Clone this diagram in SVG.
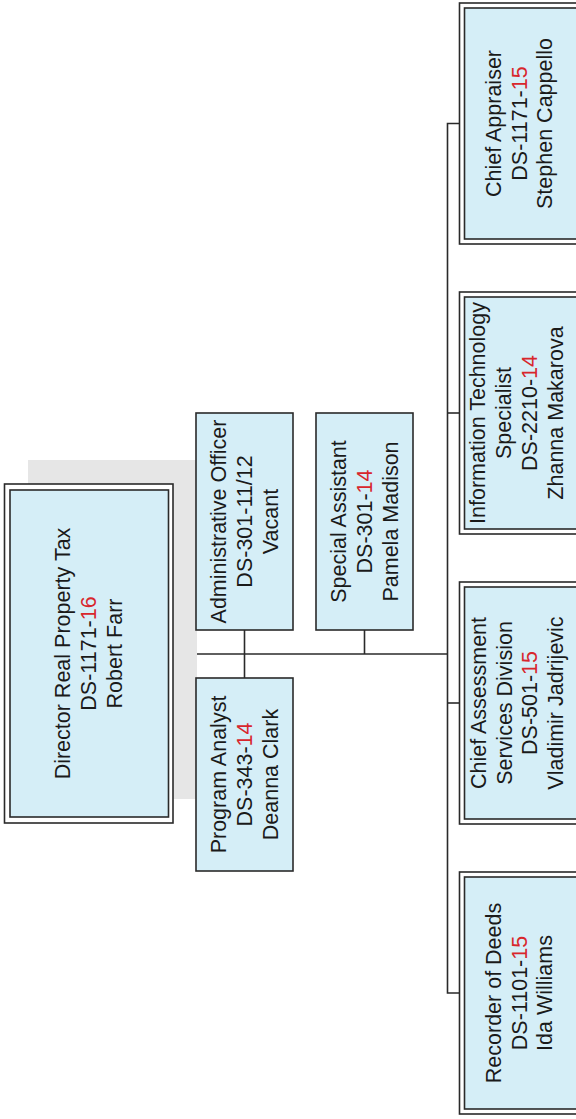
<svg xmlns="http://www.w3.org/2000/svg" width="576" height="1119" viewBox="0 0 576 1119">
<style>
.outer{fill:#ffffff;stroke:#2a2a2a;stroke-width:1.6}
.inner{fill:#d5eef7;stroke:#2a2a2a;stroke-width:1.6}
.single{fill:#d5eef7;stroke:#2a2a2a;stroke-width:1.6}
.shadow{fill:#e6e6e6}
.conn{fill:none;stroke:#2a2a2a;stroke-width:1.6}
text{font-family:"Liberation Sans",Arial,sans-serif;font-size:21.5px;fill:#1a1a1a;text-anchor:middle}
.red{fill:#d8262c}
</style>
<rect width="576" height="1119" fill="#ffffff"/>
<g id="connectors">
<path class="conn" d="M173 654 H448"/>
<path class="conn" d="M244.5 630 V678"/>
<path class="conn" d="M364.5 630 V654"/>
<path class="conn" d="M460 123.5 H447.5 V993 H460"/>
<path class="conn" d="M447.5 413 H460"/>
<path class="conn" d="M447.5 703 H460"/>
</g>
<g id="director">
<rect class="shadow" x="28" y="460" width="169" height="339"/>
<rect class="outer" x="4.5" y="484" width="168.5" height="339"/>
<rect class="inner" x="10" y="490" width="158.5" height="327"/>
<g transform="translate(88.5,653.5) rotate(-90)">
<text y="-18.3">Director Real Property Tax</text>
<text y="7.5">DS-1171-<tspan class="red">16</tspan></text>
<text y="33.3">Robert Farr</text>
</g>
</g>
<g id="admin-officer">
<rect class="single" x="196" y="413" width="97" height="217"/>
<g transform="translate(244.5,521.5) rotate(-90)">
<text y="-18.3">Administrative Officer</text>
<text y="7.5">DS-301-11/12</text>
<text y="33.3">Vacant</text>
</g>
</g>
<g id="special-assistant">
<rect class="single" x="316" y="413" width="97" height="217"/>
<g transform="translate(364.5,521.5) rotate(-90)">
<text y="-18.3">Special Assistant</text>
<text y="7.5">DS-301-<tspan class="red">14</tspan></text>
<text y="33.3">Pamela Madison</text>
</g>
</g>
<g id="program-analyst">
<rect class="single" x="196" y="678" width="97" height="193"/>
<g transform="translate(244.5,774.5) rotate(-90)">
<text y="-18.3">Program Analyst</text>
<text y="7.5">DS-343-<tspan class="red">14</tspan></text>
<text y="33.3">Deanna Clark</text>
</g>
</g>
<g id="chief-appraiser">
<rect class="outer" x="459.5" y="3" width="130" height="241"/>
<rect class="inner" x="464.5" y="8" width="120" height="231"/>
<g transform="translate(519,123.5) rotate(-90)">
<text y="-18.3">Chief Appraiser</text>
<text y="7.5">DS-1171-<tspan class="red">15</tspan></text>
<text y="33.3">Stephen Cappello</text>
</g>
</g>
<g id="it-specialist">
<rect class="outer" x="459.5" y="292" width="130" height="242"/>
<rect class="inner" x="464.5" y="297" width="120" height="232"/>
<g transform="translate(516.5,413) rotate(-90)">
<text y="-31.2">Information Technology</text>
<text y="-5.4">Specialist</text>
<text y="20.4">DS-2210-<tspan class="red">14</tspan></text>
<text y="46.2">Zhanna Makarova</text>
</g>
</g>
<g id="chief-assessment">
<rect class="outer" x="459.5" y="582" width="130" height="242"/>
<rect class="inner" x="464.5" y="587" width="120" height="232"/>
<g transform="translate(517,703) rotate(-90)">
<text y="-31.2">Chief Assessment</text>
<text y="-5.4">Services Division</text>
<text y="20.4">DS-501-<tspan class="red">15</tspan></text>
<text y="46.2">Vladimir Jadrijevic</text>
</g>
</g>
<g id="recorder-of-deeds">
<rect class="outer" x="459.5" y="872" width="130" height="242"/>
<rect class="inner" x="464.5" y="877" width="120" height="232"/>
<g transform="translate(519,993) rotate(-90)">
<text y="-18.3">Recorder of Deeds</text>
<text y="7.5">DS-1101-<tspan class="red">15</tspan></text>
<text y="33.3">Ida Williams</text>
</g>
</g>
</svg>
